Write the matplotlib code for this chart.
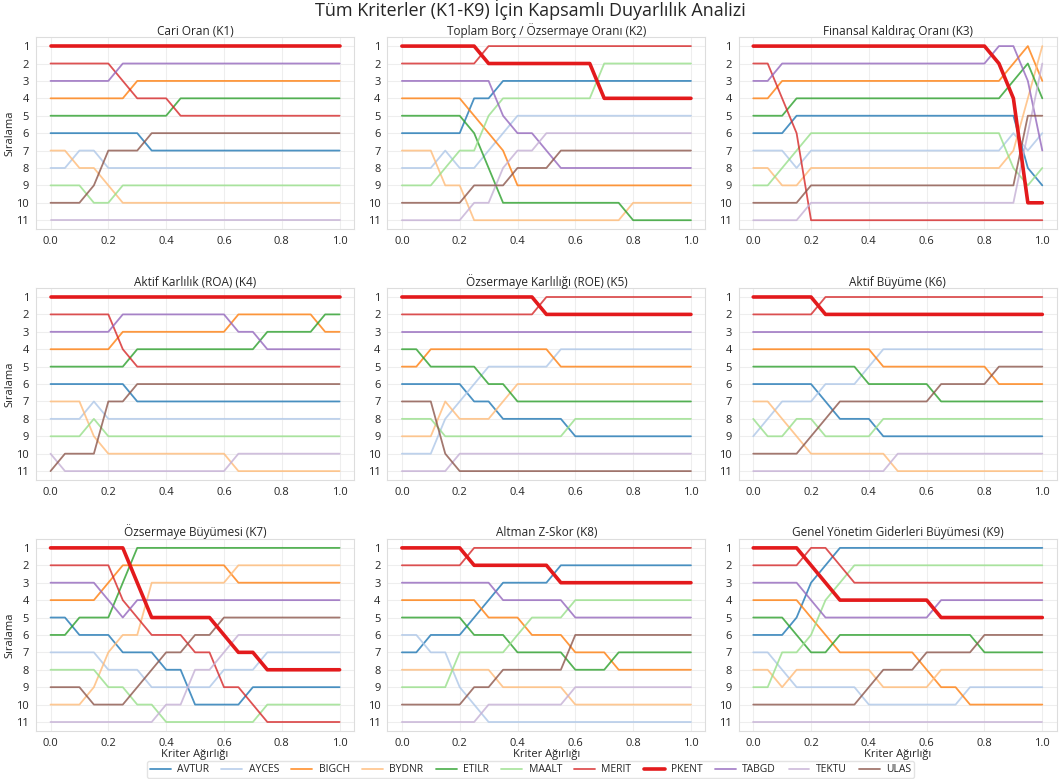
# -*- coding: utf-8 -*-
'''
    Kapsamli duyarlilik analizi - K1..K9 kriter agirligina gore siralama
'''

import matplotlib
matplotlib.use('Agg')
import matplotlib.pyplot as plt
import seaborn as sns

sns.set_style('whitegrid')
plt.rcParams['font.family'] = ['Open Sans', 'DejaVu Sans']

# _____________________________________________________________________________
#                           Veriler
# _____________________________________________________________________________

WEIGHTS = [0.0, 0.05, 0.1, 0.15, 0.2, 0.25, 0.3, 0.35, 0.4, 0.45, 0.5,
           0.55, 0.6, 0.65, 0.7, 0.75, 0.8, 0.85, 0.9, 0.95, 1.0]

COMPANIES = ['AVTUR', 'AYCES', 'BIGCH', 'BYDNR', 'ETILR', 'MAALT',
             'MERIT', 'PKENT', 'TABGD', 'TEKTU', 'ULAS']

TITLES = ['Cari Oran (K1)', 'Toplam Borç / Özsermaye Oranı (K2)',
          'Finansal Kaldıraç Oranı (K3)', 'Aktif Karlılık (ROA) (K4)',
          'Özsermaye Karlılığı (ROE) (K5)', 'Aktif Büyüme (K6)',
          'Özsermaye Büyümesi (K7)', 'Altman Z-Skor (K8)',
          'Genel Yönetim Giderleri Büyümesi (K9)']

K1 = {
    'AVTUR': [6, 6, 6, 6, 6, 6, 6, 7, 7, 7, 7, 7, 7, 7, 7, 7, 7, 7, 7, 7, 7],
    'AYCES': [8, 8, 7, 7, 8, 8, 8, 8, 8, 8, 8, 8, 8, 8, 8, 8, 8, 8, 8, 8, 8],
    'BIGCH': [4, 4, 4, 4, 4, 4, 3, 3, 3, 3, 3, 3, 3, 3, 3, 3, 3, 3, 3, 3, 3],
    'BYDNR': [7, 7, 8, 8, 9, 10, 10, 10, 10, 10, 10, 10, 10, 10, 10, 10, 10, 10, 10, 10, 10],
    'ETILR': [5, 5, 5, 5, 5, 5, 5, 5, 5, 4, 4, 4, 4, 4, 4, 4, 4, 4, 4, 4, 4],
    'MAALT': [9, 9, 9, 10, 10, 9, 9, 9, 9, 9, 9, 9, 9, 9, 9, 9, 9, 9, 9, 9, 9],
    'MERIT': [2, 2, 2, 2, 2, 3, 4, 4, 4, 5, 5, 5, 5, 5, 5, 5, 5, 5, 5, 5, 5],
    'PKENT': [1, 1, 1, 1, 1, 1, 1, 1, 1, 1, 1, 1, 1, 1, 1, 1, 1, 1, 1, 1, 1],
    'TABGD': [3, 3, 3, 3, 3, 2, 2, 2, 2, 2, 2, 2, 2, 2, 2, 2, 2, 2, 2, 2, 2],
    'TEKTU': [11, 11, 11, 11, 11, 11, 11, 11, 11, 11, 11, 11, 11, 11, 11, 11, 11, 11, 11, 11, 11],
    'ULAS': [10, 10, 10, 9, 7, 7, 7, 6, 6, 6, 6, 6, 6, 6, 6, 6, 6, 6, 6, 6, 6],
}

K2 = {
    'AVTUR': [6, 6, 6, 6, 6, 4, 4, 3, 3, 3, 3, 3, 3, 3, 3, 3, 3, 3, 3, 3, 3],
    'AYCES': [8, 8, 8, 7, 8, 8, 7, 6, 5, 5, 5, 5, 5, 5, 5, 5, 5, 5, 5, 5, 5],
    'BIGCH': [4, 4, 4, 4, 4, 5, 6, 7, 9, 9, 9, 9, 9, 9, 9, 9, 9, 9, 9, 9, 9],
    'BYDNR': [7, 7, 7, 9, 9, 11, 11, 11, 11, 11, 11, 11, 11, 11, 11, 11, 10, 10, 10, 10, 10],
    'ETILR': [5, 5, 5, 5, 5, 6, 8, 10, 10, 10, 10, 10, 10, 10, 10, 10, 11, 11, 11, 11, 11],
    'MAALT': [9, 9, 9, 8, 7, 7, 5, 4, 4, 4, 4, 4, 4, 4, 2, 2, 2, 2, 2, 2, 2],
    'MERIT': [2, 2, 2, 2, 2, 2, 1, 1, 1, 1, 1, 1, 1, 1, 1, 1, 1, 1, 1, 1, 1],
    'PKENT': [1, 1, 1, 1, 1, 1, 2, 2, 2, 2, 2, 2, 2, 2, 4, 4, 4, 4, 4, 4, 4],
    'TABGD': [3, 3, 3, 3, 3, 3, 3, 5, 6, 6, 7, 8, 8, 8, 8, 8, 8, 8, 8, 8, 8],
    'TEKTU': [11, 11, 11, 11, 11, 10, 10, 8, 7, 7, 6, 6, 6, 6, 6, 6, 6, 6, 6, 6, 6],
    'ULAS': [10, 10, 10, 10, 10, 9, 9, 9, 8, 8, 8, 7, 7, 7, 7, 7, 7, 7, 7, 7, 7],
}

K3 = {
    'AVTUR': [6, 6, 6, 5, 5, 5, 5, 5, 5, 5, 5, 5, 5, 5, 5, 5, 5, 5, 5, 8, 9],
    'AYCES': [7, 7, 7, 8, 7, 7, 7, 7, 7, 7, 7, 7, 7, 7, 7, 7, 7, 7, 6, 7, 6],
    'BIGCH': [4, 4, 3, 3, 3, 3, 3, 3, 3, 3, 3, 3, 3, 3, 3, 3, 3, 3, 2, 1, 3],
    'BYDNR': [8, 8, 9, 9, 8, 8, 8, 8, 8, 8, 8, 8, 8, 8, 8, 8, 8, 8, 7, 4, 1],
    'ETILR': [5, 5, 5, 4, 4, 4, 4, 4, 4, 4, 4, 4, 4, 4, 4, 4, 4, 4, 3, 2, 4],
    'MAALT': [9, 9, 8, 7, 6, 6, 6, 6, 6, 6, 6, 6, 6, 6, 6, 6, 6, 6, 8, 9, 8],
    'MERIT': [2, 2, 4, 6, 11, 11, 11, 11, 11, 11, 11, 11, 11, 11, 11, 11, 11, 11, 11, 11, 11],
    'PKENT': [1, 1, 1, 1, 1, 1, 1, 1, 1, 1, 1, 1, 1, 1, 1, 1, 1, 2, 4, 10, 10],
    'TABGD': [3, 3, 2, 2, 2, 2, 2, 2, 2, 2, 2, 2, 2, 2, 2, 2, 2, 1, 1, 3, 7],
    'TEKTU': [11, 11, 11, 11, 10, 10, 10, 10, 10, 10, 10, 10, 10, 10, 10, 10, 10, 10, 10, 6, 2],
    'ULAS': [10, 10, 10, 10, 9, 9, 9, 9, 9, 9, 9, 9, 9, 9, 9, 9, 9, 9, 9, 5, 5],
}

K4 = {
    'AVTUR': [6, 6, 6, 6, 6, 6, 7, 7, 7, 7, 7, 7, 7, 7, 7, 7, 7, 7, 7, 7, 7],
    'AYCES': [8, 8, 8, 7, 8, 8, 8, 8, 8, 8, 8, 8, 8, 8, 8, 8, 8, 8, 8, 8, 8],
    'BIGCH': [4, 4, 4, 4, 4, 3, 3, 3, 3, 3, 3, 3, 3, 2, 2, 2, 2, 2, 2, 3, 3],
    'BYDNR': [7, 7, 7, 9, 10, 10, 10, 10, 10, 10, 10, 10, 10, 11, 11, 11, 11, 11, 11, 11, 11],
    'ETILR': [5, 5, 5, 5, 5, 5, 4, 4, 4, 4, 4, 4, 4, 4, 4, 3, 3, 3, 3, 2, 2],
    'MAALT': [9, 9, 9, 8, 9, 9, 9, 9, 9, 9, 9, 9, 9, 9, 9, 9, 9, 9, 9, 9, 9],
    'MERIT': [2, 2, 2, 2, 2, 4, 5, 5, 5, 5, 5, 5, 5, 5, 5, 5, 5, 5, 5, 5, 5],
    'PKENT': [1, 1, 1, 1, 1, 1, 1, 1, 1, 1, 1, 1, 1, 1, 1, 1, 1, 1, 1, 1, 1],
    'TABGD': [3, 3, 3, 3, 3, 2, 2, 2, 2, 2, 2, 2, 2, 3, 3, 4, 4, 4, 4, 4, 4],
    'TEKTU': [10, 11, 11, 11, 11, 11, 11, 11, 11, 11, 11, 11, 11, 10, 10, 10, 10, 10, 10, 10, 10],
    'ULAS': [11, 10, 10, 10, 7, 7, 6, 6, 6, 6, 6, 6, 6, 6, 6, 6, 6, 6, 6, 6, 6],
}

K5 = {
    'AVTUR': [6, 6, 6, 6, 6, 7, 7, 8, 8, 8, 8, 8, 9, 9, 9, 9, 9, 9, 9, 9, 9],
    'AYCES': [10, 10, 10, 8, 7, 6, 5, 5, 5, 5, 5, 4, 4, 4, 4, 4, 4, 4, 4, 4, 4],
    'BIGCH': [5, 5, 4, 4, 4, 4, 4, 4, 4, 4, 4, 5, 5, 5, 5, 5, 5, 5, 5, 5, 5],
    'BYDNR': [9, 9, 9, 7, 8, 8, 8, 7, 6, 6, 6, 6, 6, 6, 6, 6, 6, 6, 6, 6, 6],
    'ETILR': [4, 4, 5, 5, 5, 5, 6, 6, 7, 7, 7, 7, 7, 7, 7, 7, 7, 7, 7, 7, 7],
    'MAALT': [8, 8, 8, 9, 9, 9, 9, 9, 9, 9, 9, 9, 8, 8, 8, 8, 8, 8, 8, 8, 8],
    'MERIT': [2, 2, 2, 2, 2, 2, 2, 2, 2, 2, 1, 1, 1, 1, 1, 1, 1, 1, 1, 1, 1],
    'PKENT': [1, 1, 1, 1, 1, 1, 1, 1, 1, 1, 2, 2, 2, 2, 2, 2, 2, 2, 2, 2, 2],
    'TABGD': [3, 3, 3, 3, 3, 3, 3, 3, 3, 3, 3, 3, 3, 3, 3, 3, 3, 3, 3, 3, 3],
    'TEKTU': [11, 11, 11, 11, 10, 10, 10, 10, 10, 10, 10, 10, 10, 10, 10, 10, 10, 10, 10, 10, 10],
    'ULAS': [7, 7, 7, 10, 11, 11, 11, 11, 11, 11, 11, 11, 11, 11, 11, 11, 11, 11, 11, 11, 11],
}

K6 = {
    'AVTUR': [6, 6, 6, 6, 6, 7, 8, 8, 8, 9, 9, 9, 9, 9, 9, 9, 9, 9, 9, 9, 9],
    'AYCES': [9, 8, 7, 7, 7, 6, 6, 6, 5, 4, 4, 4, 4, 4, 4, 4, 4, 4, 4, 4, 4],
    'BIGCH': [4, 4, 4, 4, 4, 4, 4, 4, 4, 5, 5, 5, 5, 5, 5, 5, 5, 6, 6, 6, 6],
    'BYDNR': [7, 7, 8, 9, 10, 10, 10, 10, 10, 10, 11, 11, 11, 11, 11, 11, 11, 11, 11, 11, 11],
    'ETILR': [5, 5, 5, 5, 5, 5, 5, 5, 6, 6, 6, 6, 6, 7, 7, 7, 7, 7, 7, 7, 7],
    'MAALT': [8, 9, 9, 8, 8, 9, 9, 9, 9, 8, 8, 8, 8, 8, 8, 8, 8, 8, 8, 8, 8],
    'MERIT': [2, 2, 2, 2, 2, 1, 1, 1, 1, 1, 1, 1, 1, 1, 1, 1, 1, 1, 1, 1, 1],
    'PKENT': [1, 1, 1, 1, 1, 2, 2, 2, 2, 2, 2, 2, 2, 2, 2, 2, 2, 2, 2, 2, 2],
    'TABGD': [3, 3, 3, 3, 3, 3, 3, 3, 3, 3, 3, 3, 3, 3, 3, 3, 3, 3, 3, 3, 3],
    'TEKTU': [11, 11, 11, 11, 11, 11, 11, 11, 11, 11, 10, 10, 10, 10, 10, 10, 10, 10, 10, 10, 10],
    'ULAS': [10, 10, 10, 10, 9, 8, 7, 7, 7, 7, 7, 7, 7, 6, 6, 6, 6, 5, 5, 5, 5],
}

K7 = {
    'AVTUR': [5, 5, 6, 6, 6, 7, 7, 7, 8, 8, 10, 10, 10, 10, 9, 9, 9, 9, 9, 9, 9],
    'AYCES': [7, 7, 7, 7, 8, 8, 8, 9, 9, 9, 9, 9, 8, 8, 8, 7, 7, 7, 7, 7, 7],
    'BIGCH': [4, 4, 4, 4, 3, 2, 2, 2, 2, 2, 2, 2, 2, 3, 3, 3, 3, 3, 3, 3, 3],
    'BYDNR': [10, 10, 10, 9, 7, 6, 6, 3, 3, 3, 3, 3, 3, 2, 2, 2, 2, 2, 2, 2, 2],
    'ETILR': [6, 6, 5, 5, 5, 3, 1, 1, 1, 1, 1, 1, 1, 1, 1, 1, 1, 1, 1, 1, 1],
    'MAALT': [8, 8, 8, 8, 9, 9, 10, 10, 11, 11, 11, 11, 11, 11, 11, 10, 10, 10, 10, 10, 10],
    'MERIT': [2, 2, 2, 2, 2, 4, 5, 6, 6, 6, 7, 7, 9, 9, 10, 11, 11, 11, 11, 11, 11],
    'PKENT': [1, 1, 1, 1, 1, 1, 3, 5, 5, 5, 5, 5, 6, 7, 7, 8, 8, 8, 8, 8, 8],
    'TABGD': [3, 3, 3, 3, 4, 5, 4, 4, 4, 4, 4, 4, 4, 4, 4, 4, 4, 4, 4, 4, 4],
    'TEKTU': [11, 11, 11, 11, 11, 11, 11, 11, 10, 10, 8, 8, 7, 6, 6, 6, 6, 6, 6, 6, 6],
    'ULAS': [9, 9, 9, 10, 10, 10, 9, 8, 7, 7, 6, 6, 5, 5, 5, 5, 5, 5, 5, 5, 5],
}

K8 = {
    'AVTUR': [7, 7, 6, 6, 6, 5, 4, 3, 3, 3, 3, 2, 2, 2, 2, 2, 2, 2, 2, 2, 2],
    'AYCES': [6, 6, 7, 7, 9, 10, 11, 11, 11, 11, 11, 11, 11, 11, 11, 11, 11, 11, 11, 11, 11],
    'BIGCH': [4, 4, 4, 4, 4, 4, 5, 5, 5, 6, 6, 6, 7, 7, 7, 8, 8, 8, 8, 8, 8],
    'BYDNR': [8, 8, 8, 8, 8, 8, 8, 9, 9, 9, 9, 9, 10, 10, 10, 10, 10, 10, 10, 10, 10],
    'ETILR': [5, 5, 5, 5, 5, 6, 6, 6, 7, 7, 7, 7, 8, 8, 8, 7, 7, 7, 7, 7, 7],
    'MAALT': [9, 9, 9, 9, 7, 7, 7, 7, 6, 5, 5, 5, 4, 4, 4, 4, 4, 4, 4, 4, 4],
    'MERIT': [2, 2, 2, 2, 2, 1, 1, 1, 1, 1, 1, 1, 1, 1, 1, 1, 1, 1, 1, 1, 1],
    'PKENT': [1, 1, 1, 1, 1, 2, 2, 2, 2, 2, 2, 3, 3, 3, 3, 3, 3, 3, 3, 3, 3],
    'TABGD': [3, 3, 3, 3, 3, 3, 3, 4, 4, 4, 4, 4, 5, 5, 5, 5, 5, 5, 5, 5, 5],
    'TEKTU': [11, 11, 11, 11, 11, 11, 10, 10, 10, 10, 10, 10, 9, 9, 9, 9, 9, 9, 9, 9, 9],
    'ULAS': [10, 10, 10, 10, 10, 9, 9, 8, 8, 8, 8, 8, 6, 6, 6, 6, 6, 6, 6, 6, 6],
}

K9 = {
    'AVTUR': [6, 6, 6, 5, 3, 2, 1, 1, 1, 1, 1, 1, 1, 1, 1, 1, 1, 1, 1, 1, 1],
    'AYCES': [7, 7, 8, 9, 9, 9, 9, 9, 10, 10, 10, 10, 10, 10, 10, 9, 9, 9, 9, 9, 9],
    'BIGCH': [4, 4, 4, 4, 5, 6, 7, 7, 7, 7, 7, 7, 8, 9, 9, 10, 10, 10, 10, 10, 10],
    'BYDNR': [8, 8, 9, 8, 8, 8, 8, 8, 8, 9, 9, 9, 9, 8, 8, 8, 8, 8, 8, 8, 8],
    'ETILR': [5, 5, 5, 6, 7, 7, 6, 6, 6, 6, 6, 6, 6, 6, 6, 6, 7, 7, 7, 7, 7],
    'MAALT': [9, 9, 7, 7, 6, 4, 3, 2, 2, 2, 2, 2, 2, 2, 2, 2, 2, 2, 2, 2, 2],
    'MERIT': [2, 2, 2, 2, 1, 1, 2, 3, 3, 3, 3, 3, 3, 3, 3, 3, 3, 3, 3, 3, 3],
    'PKENT': [1, 1, 1, 1, 2, 3, 4, 4, 4, 4, 4, 4, 4, 5, 5, 5, 5, 5, 5, 5, 5],
    'TABGD': [3, 3, 3, 3, 4, 5, 5, 5, 5, 5, 5, 5, 5, 4, 4, 4, 4, 4, 4, 4, 4],
    'TEKTU': [11, 11, 11, 11, 11, 11, 11, 11, 11, 11, 11, 11, 11, 11, 11, 11, 11, 11, 11, 11, 11],
    'ULAS': [10, 10, 10, 10, 10, 10, 10, 10, 9, 8, 8, 8, 7, 7, 7, 7, 6, 6, 6, 6, 6],
}

# _____________________________________________________________________________
#               Definicoes graficas
# _____________________________________________________________________________

colors = {
    'AVTUR': '#1f77b4', 'AYCES': '#aec7e8', 'BIGCH': '#ff7f0e',
    'BYDNR': '#ffbb78', 'ETILR': '#2ca02c', 'MAALT': '#98df8a',
    'MERIT': '#d62728', 'PKENT': '#e31a1c', 'TABGD': '#9467bd',
    'TEKTU': '#c5b0d5', 'ULAS': '#8c564b'}

HIGHLIGHT = 'PKENT'
panels = [K1, K2, K3, K4, K5, K6, K7, K8, K9]

# _____________________________________________________________________________
#                           PLOTANDO
# _____________________________________________________________________________

fig, axes = plt.subplots(3, 3, figsize=(10.61, 7.79), dpi=100)
fig.subplots_adjust(left=0.034, right=0.996, top=0.952, bottom=0.062,
                    wspace=0.105, hspace=0.31)

for i, (ax, ranks, title) in enumerate(zip(axes.flat, panels, TITLES)):
    for comp in COMPANIES:
        if comp == HIGHLIGHT:
            ax.plot(WEIGHTS, ranks[comp], color=colors[comp],
                    linewidth=2.6, label=comp, zorder=5)
        else:
            ax.plot(WEIGHTS, ranks[comp], color=colors[comp],
                    linewidth=1.3, alpha=0.8, label=comp)

    ax.set_ylim(11.5, 0.5)
    ax.set_yticks(range(1, 12))
    ax.set_xticks([0.0, 0.2, 0.4, 0.6, 0.8, 1.0])
    ax.tick_params(axis='both', which='major', labelsize=8, pad=1.5)
    ax.set_title(title, fontsize=8.5, pad=2)
    ax.grid(True, color='#eeeeee', linewidth=0.8)
    for sp in ax.spines.values():
        sp.set_color('#dddddd')
    if i % 3 == 0:
        ax.set_ylabel('Sıralama', fontsize=8, labelpad=1)
    if i >= 6:
        ax.set_xlabel('Kriter Ağırlığı', fontsize=8, labelpad=0)

fig.suptitle('Tüm Kriterler (K1-K9) İçin Kapsamlı Duyarlılık Analizi',
             fontsize=13, y=1.001, va='top')

handles, labels = axes.flat[0].get_legend_handles_labels()
leg = fig.legend(handles, labels, loc='lower center',
                 bbox_to_anchor=(0.5, -0.006), ncol=11, fontsize=7.5,
                 frameon=True, handlelength=2.0, columnspacing=1.2,
                 handletextpad=0.6, borderpad=0.3)
leg.get_frame().set_edgecolor('#dddddd')

fig.savefig('out.png', dpi=100)
